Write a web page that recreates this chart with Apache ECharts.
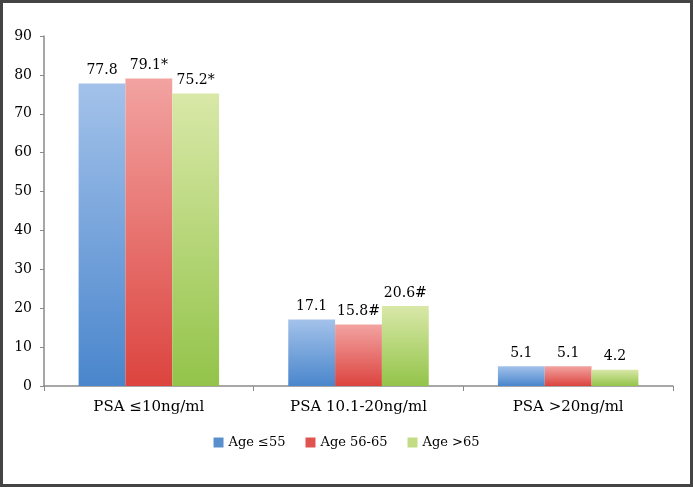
<!DOCTYPE html>
<html><head><meta charset="utf-8">
<script src="https://cdn.jsdelivr.net/npm/echarts@6/dist/echarts.min.js"></script>
<style>html,body{margin:0;padding:0;background:#fff}#c{width:693px;height:487px}</style>
</head><body><div id="c"></div>
<script>
const categories = ['PSA ≤10ng/ml', 'PSA 10.1-20ng/ml', 'PSA >20ng/ml'];
const seriesNames = ['Age ≤55', 'Age 56-65', 'Age >65'];
const ageLe55 = [77.8, 17.1, 5.1];
const age56to65 = [79.1, 15.8, 5.1];
const ageGt65 = [75.2, 20.6, 4.2];
const labelsLe55 = ['77.8', '17.1', '5.1'];
const labels56to65 = ['79.1*', '15.8#', '5.1'];
const labelsGt65 = ['75.2*', '20.6#', '4.2'];
const yTicks = [0, 10, 20, 30, 40, 50, 60, 70, 80, 90];

const FONT = 'DejaVu Serif';
const grads = [
  ['#a3c2ea', '#4a86cc'],
  ['#f2a3a1', '#dc443f'],
  ['#d9e8a8', '#93c44a']
];
const legendCols = ['#5a8fce', '#e05450', '#c2db85'];
function grad(c){return new echarts.graphic.LinearGradient(0,0,0,1,[{offset:0,color:c[0]},{offset:1,color:c[1]}]);}
const vals = [ageLe55, age56to65, ageGt65];
const labs = [labelsLe55, labels56to65, labelsGt65];

const chart = echarts.init(document.getElementById('c'), null, {renderer:'canvas'});
chart.setOption({
  animation: false,
  backgroundColor: '#fff',
  textStyle: {fontFamily: FONT},
  graphic: [{type:'rect', shape:{x:1.5,y:1.5,width:690,height:484}, style:{fill:'none', stroke:'#444', lineWidth:3}, silent:true}],
  grid: {left: 44, right: 20, top: 36, bottom: 101, containLabel: false},
  legend: {
    bottom: 33, left: 'center', itemWidth: 10, itemHeight: 10, itemGap: 20,
    icon: 'rect',
    textStyle: {fontFamily: FONT, fontSize: 13, color: '#000'},
    data: seriesNames.map((n,i)=>({name:n, itemStyle:{color:legendCols[i]}}))
  },
  xAxis: {
    type: 'category', data: categories,
    axisLine: {lineStyle: {color: '#8a8a8a', width: 1.5}},
    axisTick: {show: true, alignWithLabel: false, length: 5, lineStyle:{color:'#8a8a8a'}},
    axisLabel: {fontFamily: FONT, fontSize: 15, color: '#000', margin: 14}
  },
  yAxis: {
    type: 'value', min: yTicks[0], max: yTicks[yTicks.length-1], interval: 10,
    axisLine: {show: true, lineStyle: {color: '#8a8a8a', width: 1.5}},
    axisTick: {show: true, length: 4, inside: false, lineStyle:{color:'#8a8a8a'}},
    splitLine: {show: false},
    axisLabel: {fontFamily: FONT, fontSize: 14, color: '#000', margin: 12}
  },
  series: seriesNames.map((n,i)=>({
    name: n, type: 'bar', barGap: '0%', barCategoryGap: '33%',
    data: vals[i].map((v,j)=>({value:v, label:{formatter: labs[i][j]}})),
    itemStyle: {color: grad(grads[i])},
    label: {show: true, position: 'top', distance: 6, fontFamily: FONT, fontSize: 14, color: '#000'}
  }))
});
</script></body></html>
